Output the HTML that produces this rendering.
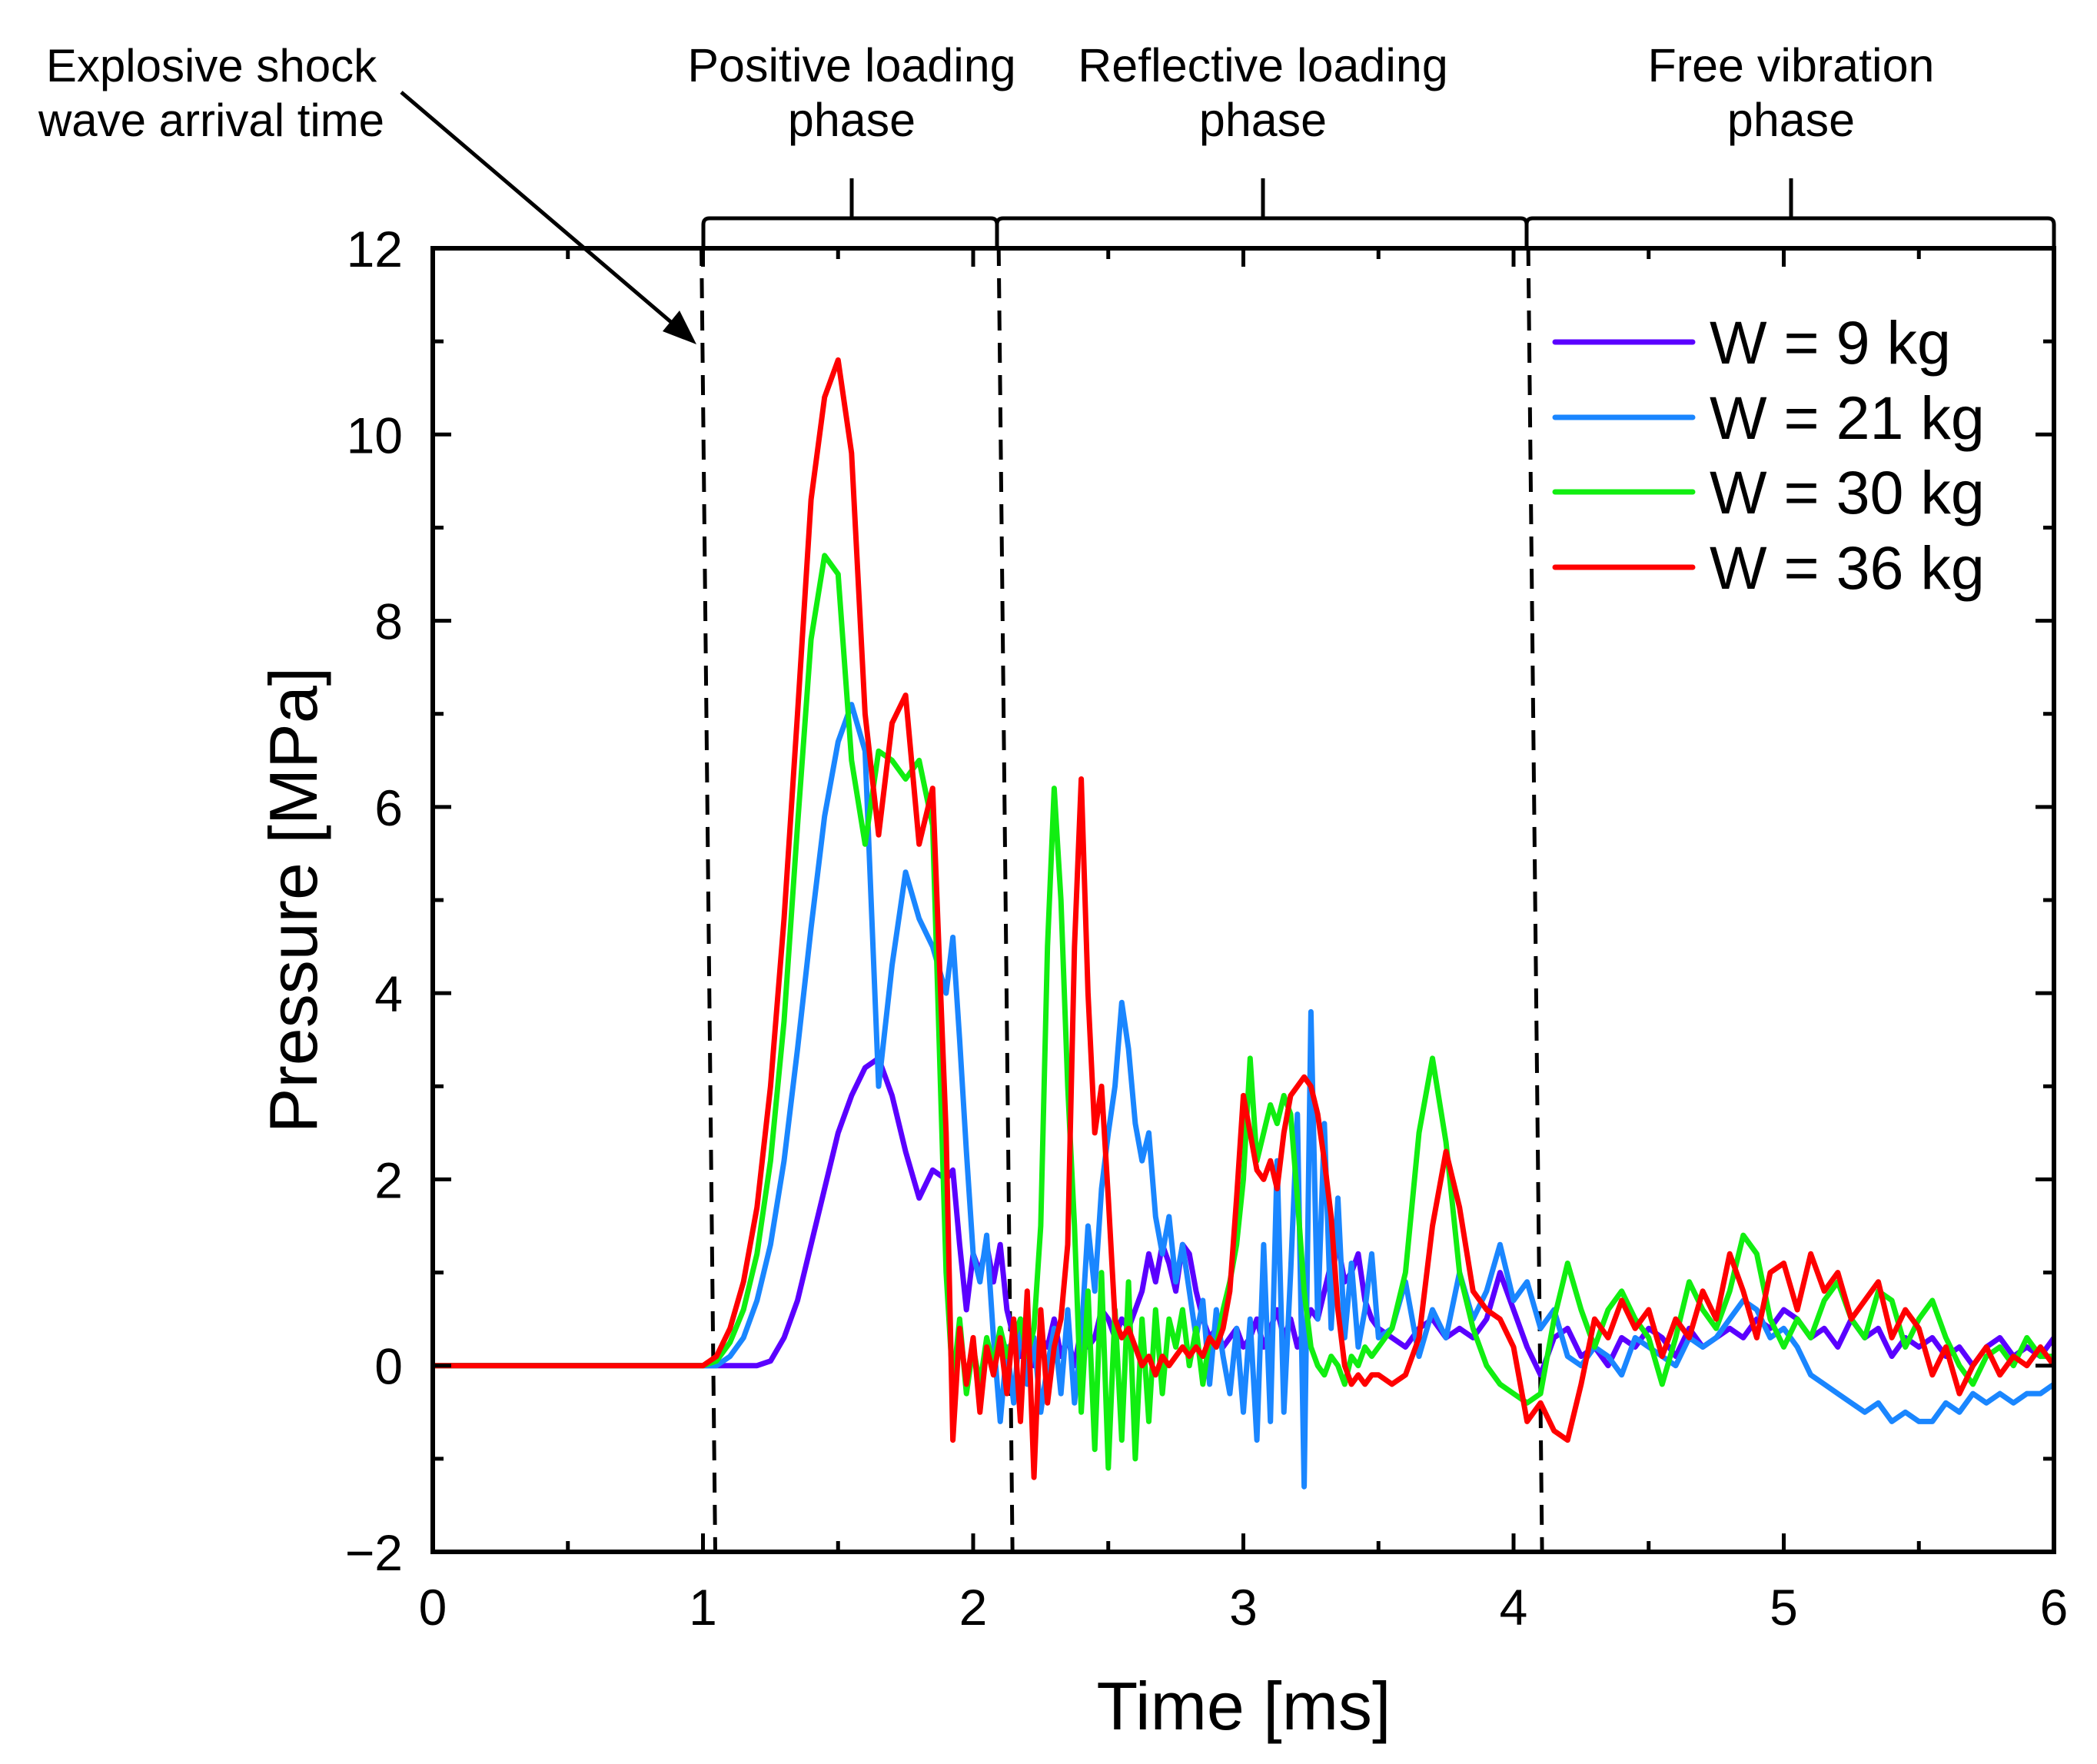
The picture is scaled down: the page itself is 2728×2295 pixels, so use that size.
<!DOCTYPE html>
<html><head><meta charset="utf-8"><style>
html,body{margin:0;padding:0;background:#fff}
svg{display:block}
text{font-family:"Liberation Sans",Arial,sans-serif;fill:#000}
</style></head><body>
<svg id="chart" width="2728" height="2295" viewBox="0 0 2728 2295" xmlns="http://www.w3.org/2000/svg">
<g id="annot">
  <text x="275" y="106" font-size="60" text-anchor="middle">Explosive shock</text>
  <text x="275" y="177" font-size="60" text-anchor="middle">wave arrival time</text>
  <text x="1108" y="106" font-size="61" text-anchor="middle">Positive loading</text>
  <text x="1108" y="177" font-size="61" text-anchor="middle">phase</text>
  <text x="1643" y="106" font-size="61" text-anchor="middle">Reflective loading</text>
  <text x="1643" y="177" font-size="61" text-anchor="middle">phase</text>
  <text x="2330" y="106" font-size="61" text-anchor="middle">Free vibration</text>
  <text x="2330" y="177" font-size="61" text-anchor="middle">phase</text>
  <path d="M915,320 L915,292 Q915,284 923,284 L1289,284 Q1297,284 1297,292 L1297,320 M1297,292 Q1297,284 1305,284 L1978,284 Q1986,284 1986,292 L1986,320 M1986,292 Q1986,284 1994,284 L2664,284 Q2672,284 2672,292 L2672,320 M1108,284 L1108,232 M1643,284 L1643,232 M2330,284 L2330,232" fill="none" stroke="#000" stroke-width="5"/>
  <line x1="522" y1="120" x2="880" y2="425" stroke="#000" stroke-width="5"/>
  <polygon points="906,448 862,431 884,404" fill="#000"/>
</g>
<g id="plot"></g>
</svg>
<script>
// Sampling grid pieces (ms)
const grid1 = [1.00,1.05,1.10,1.15,1.20,1.25,1.30,1.35,1.40,1.45,1.50,1.55,1.60,1.65,1.70,1.75,1.80,1.85,1.90];
const xTicks = [0,1,2,3,4,5,6];
const yTicks = [-2,0,2,4,6,8,10,12];
const xTickLabels = ["0","1","2","3","4","5","6"];
const yTickLabels = ["\u22122","0","2","4","6","8","10","12"];
const seriesNames = ["W = 9 kg","W = 21 kg","W = 30 kg","W = 36 kg"];
const phaseBounds = [1.0, 2.1, 4.06];

const w9 = [0,
 0,0,0,0,0, 0.05,0.3,0.7,1.3,1.9, 2.5,2.9,3.2,3.3,2.9, 2.3,1.8,2.1,2.0,
 2.1,1.3,0.6,1.2,
 1.0,1.3,0.9,1.3,0.6,0.3,0.1,0.4,0.0,0.3,
 0.2,0.5,0.1,0.3,0.0,0.4,0.2,0.3,0.6,0.5,
 0.3,0.5,0.4,0.6,0.8,1.2,0.9,1.3,1.1,0.8,
 1.3,1.2,0.8,0.5,0.3,0.4,0.2,0.3,0.4,0.2,
 0.3,0.5,0.2,0.4,0.6,0.3,0.5,0.2,0.4,0.6,
 0.5,0.8,1.1,1.3,0.9,1.0,1.2,0.7,0.5,0.4,
 0.3,0.2,0.4,0.5,0.3, 0.4,0.3,0.5,1.0,0.6, 0.2,-0.1,0.3,0.4,0.1, 0.2,0.0,0.3,0.2,0.4,
 0.3,0.1,0.4,0.2,0.3, 0.4,0.3,0.5,0.4,0.6, 0.5,0.3,0.4,0.2,0.5, 0.3,0.4,0.1,0.3,0.2,
 0.3,0.1,0.2,0.0,0.2, 0.3,0.1,0.2,0.1,0.3];
const w21 = [0,
 0,0,0.1,0.3,0.7, 1.3,2.2,3.4,4.7,5.9, 6.7,7.1,6.6,3.0,4.3, 5.3,4.8,4.5,4.0,
 4.6,3.5,2.3,1.2,
 0.9,1.4,0.3,-0.6,0.2,-0.4,0.5,-0.2,0.3,-0.5,
 0.0,0.4,-0.3,0.6,-0.4,0.3,1.5,0.8,1.9,2.5,
 3.0,3.9,3.4,2.6,2.2,2.5,1.6,1.2,1.6,0.9,
 1.3,0.8,0.3,0.7,-0.2,0.6,0.1,-0.3,0.4,-0.5,
 0.5,-0.8,1.3,-0.6,2.2,-0.5,1.0,2.7,-1.3,3.8,
 0.5,2.6,0.4,1.8,0.3,1.1,0.2,0.6,1.2,0.3,
 0.4,0.9,0.1,0.6,0.3, 1.0,0.5,0.8,1.3,0.7, 0.9,0.4,0.6,0.1,0.0, 0.2,0.1,-0.1,0.3,0.2,
 0.1,0.0,0.3,0.2,0.3, 0.5,0.7,0.6,0.3,0.4, 0.2,-0.1,-0.2,-0.3,-0.4, -0.5,-0.4,-0.6,-0.5,-0.6,
 -0.6,-0.4,-0.5,-0.3,-0.4, -0.3,-0.4,-0.3,-0.3,-0.2];
const w30 = [0,
 0,0.05,0.25,0.6,1.2, 2.2,3.7,5.8,7.8,8.7, 8.5,6.5,5.6,6.6,6.5, 6.3,6.5,5.8,1.0,
 -0.2,0.5,-0.3,0.2,
 -0.2,0.3,0.0,0.4,0.1,0.3,0.5,0.1,0.4,1.5,
 4.5,6.2,5.0,3.0,1.5,-0.5,0.8,-0.9,1.0,-1.1,
 0.6,-0.8,0.9,-1.0,0.5,-0.6,0.6,-0.3,0.5,0.2,
 0.6,0.0,0.4,-0.2,0.3,0.2,0.6,0.9,1.3,2.0,
 3.3,2.2,2.5,2.8,2.6,2.9,2.7,1.8,0.8,0.2,
 0.0,-0.1,0.1,0.0,-0.2,0.1,0.0,0.2,0.1,0.2,
 0.4,1.0,2.5,3.3,2.4, 1.0,0.4,0.0,-0.2,-0.3, -0.4,-0.3,0.5,1.1,0.6, 0.2,0.6,0.8,0.5,0.3,
 -0.2,0.3,0.9,0.6,0.4, 0.8,1.4,1.2,0.5,0.2, 0.5,0.3,0.7,0.9,0.5, 0.3,0.8,0.7,0.2,0.5,
 0.7,0.3,0.0,-0.2,0.1, 0.2,0.0,0.3,0.1,0.1];
const w36 = [0,
 0,0.1,0.4,0.9,1.7, 3.0,4.8,7.0,9.3,10.4, 10.8,9.8,7.0,5.7,6.9, 7.2,5.6,6.2,2.5,
 -0.8,0.4,-0.2,0.3,
 -0.5,0.2,-0.1,0.3,-0.3,0.5,-0.6,0.8,-1.2,0.6,
 -0.4,0.2,0.5,1.3,4.5,6.3,4.0,2.5,3.0,1.8,
 0.5,0.3,0.4,0.2,0.0,0.1,-0.1,0.1,0.0,0.1,
 0.2,0.1,0.2,0.1,0.3,0.2,0.4,0.8,1.8,2.9,
 2.5,2.1,2.0,2.2,1.9,2.5,2.9,3.0,3.1,3.0,
 2.7,2.2,1.6,0.6,0.0,-0.2,-0.1,-0.2,-0.1,-0.1,
 -0.2,-0.1,0.3,1.5,2.3, 1.7,0.8,0.6,0.5,0.2, -0.6,-0.4,-0.7,-0.8,-0.2, 0.5,0.3,0.7,0.4,0.6,
 0.1,0.5,0.3,0.8,0.5, 1.2,0.8,0.3,1.0,1.1, 0.6,1.2,0.8,1.0,0.5, 0.7,0.9,0.3,0.6,0.4,
 -0.1,0.2,-0.3,0.0,0.2, -0.1,0.1,0.0,0.2,0.0];
const colors = ["#5a00ff","#1a86ff","#11ee11","#ff0000"];

const T = [0].concat(grid1);
for (let i = 1; i <= 64; i++) T.push(+(1.9 + 0.025*i).toFixed(3));
for (let i = 1; i <= 50; i++) T.push(+(3.5 + 0.05*i).toFixed(3));

const X0 = 563, X1 = 2672, Y0 = 2019, Y1 = 323;
const xs = t => X0 + (t - 0) / 6 * (X1 - X0);
const ys = p => Y0 - (p + 2) / 14 * (Y0 - Y1);
const NS = "http://www.w3.org/2000/svg";
const plot = document.getElementById('plot');
function mk(tag, attrs, parent) {
  const e = document.createElementNS(NS, tag);
  for (const k in attrs) e.setAttribute(k, attrs[k]);
  (parent || plot).appendChild(e);
  return e;
}

phaseBounds.forEach((b, i) => {
  const xa = xs(b), el = mk('line', {x1: xa - 2, y1: 320, x2: xa + 16, y2: Y0, stroke: '#000', 'stroke-width': 5, 'stroke-dasharray': '26,16'});
  
  
});

[w9, w21, w30, w36].forEach((vals, si) => {
  const n = Math.min(vals.length, T.length);
  let d = '';
  for (let i = 0; i < n; i++) d += (i ? 'L' : 'M') + xs(T[i]).toFixed(1) + ',' + ys(vals[i]).toFixed(1);
  const el = mk('path', {d: d, fill: 'none', stroke: colors[si], 'stroke-width': 7, 'stroke-linejoin': 'round'});
  
  
});

const frame = mk('rect', {x: X0, y: Y1, width: X1 - X0, height: Y0 - Y1, fill: 'none', stroke: '#000', 'stroke-width': 6});



for (let v = -2; v <= 12; v++) {
  const y = ys(v), L = (v % 2 === 0) ? 24 : 14;
  const tl = mk('line', {x1: X0, y1: y, x2: X0 + L, y2: y, stroke: '#000', 'stroke-width': 5});
  
  
  const tr = mk('line', {x1: X1, y1: y, x2: X1 - L, y2: y, stroke: '#000', 'stroke-width': 5});
  
  
}
for (let k = 0; k <= 12; k++) {
  const t = k / 2, x = xs(t), L = (k % 2 === 0) ? 24 : 14;
  const tb = mk('line', {x1: x, y1: Y0, x2: x, y2: Y0 - L, stroke: '#000', 'stroke-width': 5});
  
  
  const tt = mk('line', {x1: x, y1: Y1, x2: x, y2: Y1 + L, stroke: '#000', 'stroke-width': 5});
  
  
}
yTicks.forEach((v, i) => {
  const t = mk('text', {x: 524, y: ys(v) + 24, 'font-size': 66, 'text-anchor': 'end'});
  t.textContent = yTickLabels[i];
  
  
});
xTicks.forEach((v, i) => {
  const t = mk('text', {x: xs(v), y: 2114, 'font-size': 66, 'text-anchor': 'middle'});
  t.textContent = xTickLabels[i];
  
  
});
const xt = mk('text', {x: 1618, y: 2250, 'font-size': 88, 'text-anchor': 'middle'});
xt.textContent = 'Time [ms]';


const yt = mk('text', {x: 0, y: 0, 'font-size': 88, 'text-anchor': 'middle', transform: 'translate(412,1171) rotate(-90)'});
yt.textContent = 'Pressure [MPa]';



const legY = [445, 543, 640, 738];
seriesNames.forEach((nm, i) => {
  const l = mk('line', {x1: 2023, y1: legY[i], x2: 2202, y2: legY[i], stroke: colors[i], 'stroke-width': 7, 'stroke-linecap': 'round'});
  
  
  const t = mk('text', {x: 2224, y: legY[i] + 28, 'font-size': 79});
  t.textContent = nm;
  
  
});
</script>
</body></html>
